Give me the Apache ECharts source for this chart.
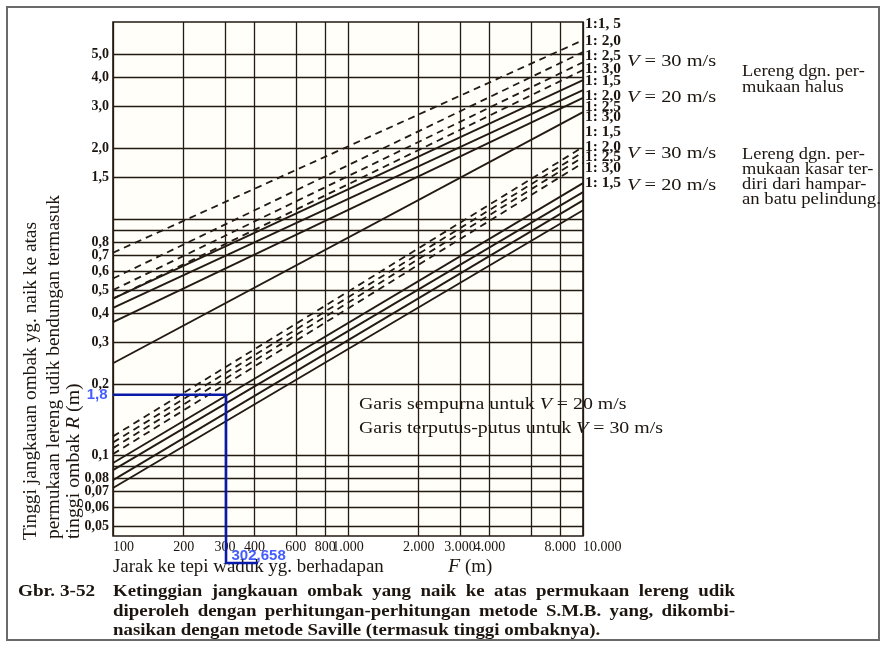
<!DOCTYPE html>
<html>
<head>
<meta charset="utf-8">
<script src="https://cdn.jsdelivr.net/npm/echarts@6/dist/echarts.min.js"></script>
<style>
  html, body { margin: 0; padding: 0; background: #ffffff; }
  #chart { width: 886px; height: 645px; }
</style>
</head>
<body>
<div id="chart"></div>
<script>
// Fetch F (m) at which every design line is read: left edge and right edge of the chart
const fetchEnds = [100, 10000];

// Slope names, top line first in each group
const slopeNames = ['1:1,5', '1:2,0', '1:2,5', '1:3,0'];

// Run-up R (m) at F = 100 m and F = 10.000 m
// Smooth slope, V = 30 m/s (dashed)
const smoothV30At100   = [0.72, 0.56, 0.50, 0.46];
const smoothV30At10000 = [5.73, 5.10, 4.62, 4.28];
// Smooth slope, V = 20 m/s (solid)
const smoothV20At100   = [0.46, 0.42, 0.366, 0.245];
const smoothV20At10000 = [3.88, 3.52, 3.26, 2.84];
// Rough (rip-rap) slope, V = 30 m/s (dashed)
const roughV30At100    = [0.120, 0.113, 0.107, 0.101];
const roughV30At10000  = [2.02, 1.92, 1.83, 1.73];
// Rough (rip-rap) slope, V = 20 m/s (solid)
const roughV20At100    = [0.0925, 0.0863, 0.0783, 0.0725];
const roughV20At10000  = [1.42, 1.30, 1.20, 1.09];

// Grid lines and tick labels ('' = line without a label)
const xLineValues = [100, 200, 300, 400, 600, 800, 1000, 2000, 3000, 4000, 6000, 8000, 10000];
const xLineLabels = ['100', '200', '300', '400', '600', '800', '1.000', '2.000', '3.000', '4.000', '', '8.000', '10.000'];
const yLineValues = [0.05, 0.06, 0.07, 0.08, 0.09, 0.1, 0.2, 0.3, 0.4, 0.5, 0.6, 0.7, 0.8, 0.9, 1.0, 1.5, 2, 3, 4, 5];
const yLineLabels = ['0,05', '0,06', '0,07', '0,08', '', '0,1', '0,2', '0,3', '0,4', '0,5', '0,6', '0,7', '0,8', '', '', '1,5', '2,0', '3,0', '4,0', '5,0'];

// Worked example: R = 1,8 (dm) at F = 302,658 m
const exampleF = 302.658;
const exampleR = 0.18;
const exampleFoot = [302.658, 0.0349];
const exampleUnderlineEnd = [414, 0.0349];
const exampleLabelR = '1,8';
const exampleLabelF = '302,658';

const INK = '#231a12';
const SERIF = '"Liberation Serif", "DejaVu Serif", serif';
const SANS = '"Liberation Sans", Arial, sans-serif';

const chart = echarts.init(document.getElementById('chart'), null, { renderer: 'canvas' });

function designLine(name, at100, at10000, dashed) {
  return {
    name: name,
    type: 'line',
    data: [[fetchEnds[0], at100], [fetchEnds[1], at10000]],
    symbol: 'none',
    silent: true,
    lineStyle: { color: INK, width: dashed ? 1.8 : 1.9, type: dashed ? [7, 5] : 'solid' },
    z: 5
  };
}

const series = [];
[
  ['halus V30', smoothV30At100, smoothV30At10000, true],
  ['halus V20', smoothV20At100, smoothV20At10000, false],
  ['kasar V30', roughV30At100, roughV30At10000, true],
  ['kasar V20', roughV20At100, roughV20At10000, false]
].forEach(function (g) {
  slopeNames.forEach(function (s, i) {
    series.push(designLine(g[0] + ' ' + s, g[1][i], g[2][i], g[3]));
  });
});

const tickFont = { fontFamily: SERIF, fontWeight: 'bold', fontSize: 14, color: '#1c140e' };

// Grid lines as mark lines, with their tick labels
series.push({
  name: 'grid',
  type: 'scatter',
  data: [],
  silent: true,
  markLine: {
    silent: true,
    symbol: 'none',
    animation: false,
    lineStyle: { color: INK, width: 1.3, type: 'solid' },
    data: yLineValues.map(function (v, i) {
      return {
        yAxis: v,
        label: Object.assign({ show: yLineLabels[i] !== '', position: 'start', distance: 4, formatter: yLineLabels[i] }, tickFont)
      };
    }).concat(xLineValues.map(function (v, i) {
      const edge = i === 0 || i === xLineValues.length - 1;
      return {
        xAxis: v,
        label: Object.assign({}, tickFont, {
          show: xLineLabels[i] !== '', position: 'start', distance: 4, formatter: xLineLabels[i],
          align: edge ? 'left' : 'center', fontWeight: 'normal', fontSize: 14
        })
      };
    }))
  },
  z: 2
});

// Worked example guide
series.push({
  name: 'contoh',
  type: 'line',
  clip: false,
  silent: true,
  symbol: 'none',
  lineStyle: { color: '#0a1aa8', width: 2.6 },
  data: [[fetchEnds[0], exampleR], [exampleF, exampleR], exampleFoot, exampleUnderlineEnd],
  z: 10
});
series.push({
  name: 'contoh-label',
  type: 'scatter',
  clip: false,
  silent: true,
  symbolSize: 1,
  itemStyle: { color: 'rgba(0,0,0,0)' },
  label: { show: true, fontFamily: SANS, fontWeight: 'bold', fontSize: 15, color: '#1633ff' },
  data: [
    { value: [fetchEnds[0], exampleR], label: { position: 'left', distance: 5, formatter: exampleLabelR } },
    { value: exampleFoot, label: { position: 'right', distance: 5, offset: [0, -7], formatter: exampleLabelF } }
  ],
  z: 11
});

const ink = '#1c140e';
const measureCtx = document.createElement('canvas').getContext('2d');

function txt(x, y, text, size, extra, sx) {
  return {
    type: 'text', x: x, y: y, scaleX: sx || 1, silent: true,
    style: Object.assign({ text: text, fontSize: size, fontFamily: SERIF, fill: ink, verticalAlign: 'middle' }, extra || {})
  };
}
function italicV(size) {
  return { rich: { i: { fontStyle: 'italic', fontFamily: SERIF, fontSize: size, fill: ink } } };
}
// Spread the words of one line so it runs from x to x + width
function justified(x, y, text, width, size, weight, sx) {
  measureCtx.font = (weight || 'normal') + ' ' + size + 'px "Liberation Serif"';
  const words = text.split(' ');
  const widths = words.map(function (w) { return measureCtx.measureText(w).width * sx; });
  const total = widths.reduce(function (a, b) { return a + b; }, 0);
  const gap = (width - total) / (words.length - 1);
  const out = [];
  let cx = x;
  words.forEach(function (w, i) {
    out.push(txt(cx, y, w, size, { fontWeight: weight || 'normal' }, sx));
    cx += widths[i] + gap;
  });
  return out;
}
function rotated(x, y, text, size, sx, extra) {
  return {
    type: 'text', x: x, y: y, rotation: Math.PI / 2, scaleX: sx, silent: true,
    style: Object.assign({ text: text, fontSize: size, fontFamily: SERIF, fill: ink, align: 'left', verticalAlign: 'middle' }, extra || {})
  };
}

const slopeTagY = [24, 41, 56, 69, 81, 96, 107, 117, 132, 147, 157, 168, 183];
const slopeTags = ['1:1, 5', '1: 2,0', '1: 2,5', '1: 3,0', '1: 1,5', '1: 2,0', '1: 2,5', '1: 3,0', '1: 1,5', '1: 2,0', '1: 2,5', '1: 3,0', '1: 1,5'];

let graphics = [
  { type: 'rect', shape: { x: 7, y: 7, width: 872, height: 633 }, silent: true,
    style: { fill: 'rgba(0,0,0,0)', stroke: '#6a6a6a', lineWidth: 2 } },

  // Axis titles
  rotated(31, 540, 'Tinggi jangkauan ombak yg. naik ke atas', 18, 1.075),
  rotated(54, 539, 'permukaan lereng udik bendungan termasuk', 18, 1.075),
  rotated(74, 539, 'tinggi ombak {i|R} (m)', 18, 1.1, italicV(18)),
  txt(113, 567, 'Jarak ke tepi waduk yg. berhadapan', 18, null, 1.05),
  txt(448, 567, '{i|F} (m)', 18, italicV(19), 1.05),

  // Key inside the plot
  txt(359, 405, 'Garis sempurna untuk {i|V} = 20 m/s', 17, italicV(17), 1.17),
  txt(359, 429, 'Garis terputus-putus untuk {i|V} = 30 m/s', 17, italicV(17), 1.17),

  // Right-hand key
  txt(627, 62, '{i|V} = 30 m/s', 17, italicV(17), 1.2),
  txt(627, 98, '{i|V} = 20 m/s', 17, italicV(17), 1.2),
  txt(627, 154, '{i|V} = 30 m/s', 17, italicV(17), 1.2),
  txt(627, 186, '{i|V} = 20 m/s', 17, italicV(17), 1.2),
  txt(742, 72, 'Lereng dgn. per-', 16, null, 1.15),
  txt(742, 88, 'mukaan halus', 16, null, 1.15),
  txt(742, 155, 'Lereng dgn. per-', 16, null, 1.15),
  txt(742, 170, 'mukaan kasar ter-', 16, null, 1.15),
  txt(742, 185, 'diri dari hampar-', 16, null, 1.15),
  txt(742, 200, 'an batu pelindung.', 16, null, 1.17),

  // Caption
  txt(18, 592, 'Gbr. 3-52', 16, { fontWeight: 'bold' }, 1.2),
  txt(113, 631, 'nasikan dengan metode Saville (termasuk tinggi ombaknya).', 16, { fontWeight: 'bold' }, 1.18)
];
graphics = graphics
  .concat(justified(113, 592, 'Ketinggian jangkauan ombak yang naik ke atas permukaan lereng udik', 622, 16, 'bold', 1.18))
  .concat(justified(113, 612, 'diperoleh dengan perhitungan-perhitungan metode S.M.B. yang, dikombi-', 622, 16, 'bold', 1.18));

slopeTags.forEach(function (t, i) {
  graphics.push(txt(585, slopeTagY[i], t, 14, { fontWeight: 'bold' }, 1.1));
});

chart.setOption({
  animation: false,
  backgroundColor: '#ffffff',
  grid: { left: 113, top: 22, width: 470, height: 514, show: true, borderColor: INK, borderWidth: 1.6, backgroundColor: '#fffef9' },
  xAxis: {
    type: 'log', logBase: 10, min: 100, max: 10000,
    axisLine: { show: false }, axisTick: { show: false }, axisLabel: { show: false }, splitLine: { show: false }
  },
  yAxis: {
    type: 'log', logBase: 10, min: 0.0454, max: 6.84,
    axisLine: { show: false }, axisTick: { show: false }, axisLabel: { show: false }, splitLine: { show: false }
  },
  series: series,
  graphic: graphics
});
</script>
</body>
</html>
